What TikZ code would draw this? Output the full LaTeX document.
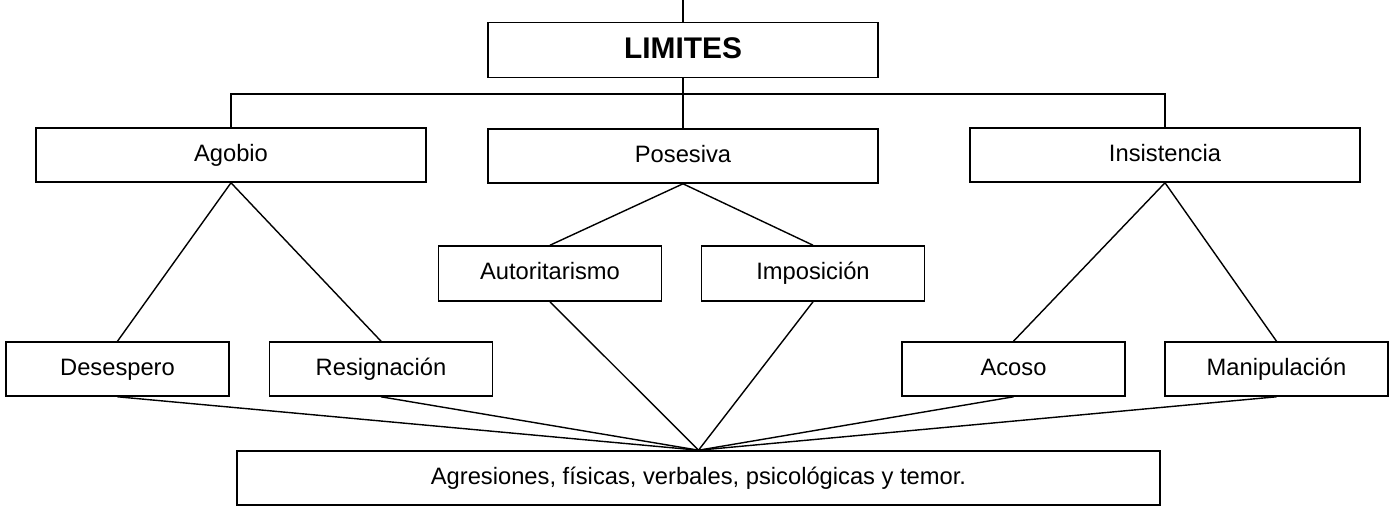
\documentclass[tikz,border=0pt]{standalone}
\usepackage{fontspec}
\setmainfont{Liberation Sans}
\usetikzlibrary{positioning}
\tikzstyle{block}=[rectangle, draw=black, line width=0.9pt, minimum height=1.08cm, inner sep=0pt, text height=10pt, text depth=3pt, text centered, font=\fontsize{13.5}{16}\selectfont]
\tikzstyle{wideblock}=[block, minimum width=7.8cm]
\tikzstyle{smallblock}=[block, minimum width=4.46cm]
\tikzstyle{link}=[draw, line width=0.8pt]

\begin{document}
\begin{tikzpicture}[x=0.02cm, y=-0.02cm]
\useasboundingbox (0,0) rectangle (1396,507);

\node[wideblock, minimum height=1.1cm, text height=12.5pt, font=\fontsize{17}{20}\selectfont\bfseries] (limites) at (683,50) {LIMITES};

\node[wideblock] (agobio)      at (231,155)  {Agobio};
\node[wideblock] (posesiva)    at (683,156)  {Posesiva};
\node[wideblock] (insistencia) at (1165,155) {Insistencia};

\node[smallblock, minimum height=1.1cm] (autoritarismo) at (550,273.5) {Autoritarismo};
\node[smallblock, minimum height=1.1cm] (imposicion)    at (813,273.5) {Imposición};

\node[smallblock] (desespero)    at (117.5,369)  {Desespero};
\node[smallblock] (resignacion)  at (381,369)    {Resignación};
\node[smallblock] (acoso)        at (1013.5,369) {Acoso};
\node[smallblock] (manipulacion) at (1276.5,369) {Manipulación};

\node[block, minimum width=18.46cm] (agresiones) at (698.5,478) {Agresiones, físicas, verbales, psicológicas y temor.};

\coordinate (top) at (683,0);
\coordinate (bar) at (683,94);

\draw[link] (top) -- (limites);
\draw[link] (limites) -- (posesiva);
\draw[link] (agobio.north) |- (bar) -| (insistencia.north);

\draw[link] (agobio.south) -- (desespero.north);
\draw[link] (agobio.south) -- (resignacion.north);
\draw[link] (posesiva.south) -- (autoritarismo.north);
\draw[link] (posesiva.south) -- (imposicion.north);
\draw[link] (insistencia.south) -- (acoso.north);
\draw[link] (insistencia.south) -- (manipulacion.north);

\draw[link] (desespero.south)     -- (agresiones.north);
\draw[link] (resignacion.south)   -- (agresiones.north);
\draw[link] (autoritarismo.south) -- (agresiones.north);
\draw[link] (imposicion.south)    -- (agresiones.north);
\draw[link] (acoso.south)         -- (agresiones.north);
\draw[link] (manipulacion.south)  -- (agresiones.north);

\end{tikzpicture}
\end{document}
